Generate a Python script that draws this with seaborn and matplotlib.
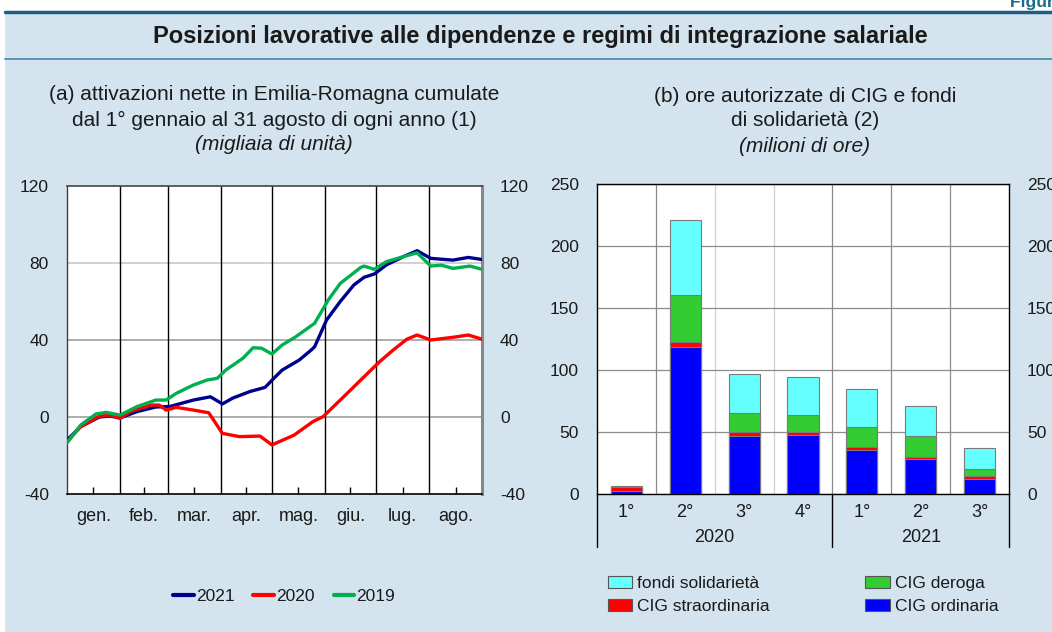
import pandas as pd
import matplotlib
matplotlib.use("Agg")
import matplotlib.pyplot as plt
import matplotlib.transforms as mtransforms
from matplotlib.lines import Line2D
from matplotlib.patches import Patch, Rectangle
import seaborn as sns

sns.set_style("white")
plt.rcParams['font.family'] = ['Liberation Sans', 'DejaVu Sans']
plt.rcParams['axes.unicode_minus'] = False

# ============================
# dati pannello (a): giorni dal 1° gennaio, migliaia di unità
# ============================
giorni_2021 = [0, 8, 19, 25, 31, 41, 52, 60, 74, 84, 91, 97, 107, 116, 121, 126, 136, 143, 145,
               152, 160, 168, 174, 180, 187, 197, 205, 213, 226, 235, 243]
valori_2021 = [-12, -5, 0, 0.5, -0.5, 2.8, 5.2, 5.4, 8.8, 10.5, 6.8, 9.8, 13.2, 15.4, 20, 24.4,
               29.6, 34.8, 36.5, 50.4, 60, 68.6, 72.6, 74.3, 79, 83.3, 86.4, 82.4, 81.5, 82.9, 81.8]

giorni_2020 = [0, 8, 19, 25, 31, 37, 49, 54, 58, 64, 74, 83, 91, 101, 113, 120, 133, 144, 150,
               162, 172, 178, 183, 191, 199, 205, 213, 226, 235, 243]
valori_2020 = [-12.8, -5, 0.5, 1, -0.7, 2.8, 6.2, 6.2, 3.6, 5, 3.6, 2.2, -8.5, -10.2, -9.9, -14.5,
               -9.4, -2.4, 0.2, 10.5, 19.2, 24.4, 28.7, 34.8, 40.4, 42.6, 40, 41.4, 42.6, 40.4]

giorni_2019 = [0, 8, 17, 23, 31, 41, 52, 58, 64, 74, 82, 88, 93, 103, 109, 114, 120, 126, 134,
               145, 153, 160, 172, 174, 180, 187, 197, 205, 213, 219, 226, 236, 243]
valori_2019 = [-13.5, -4.2, 1.6, 2.4, 1.0, 5.4, 8.8, 8.8, 12.3, 16.6, 19.2, 20.1, 24.4, 30.5, 36,
               35.7, 32.7, 37.4, 41.7, 48.7, 60.8, 69.4, 77.7, 78.4, 76.7, 80.7, 83.3, 85.3, 78.4,
               78.9, 77.2, 78.4, 76.7]

mesi = ['gen.', 'feb.', 'mar.', 'apr.', 'mag.', 'giu.', 'lug.', 'ago.']
inizio_mesi = [0, 31, 59, 90, 120, 151, 181, 212, 243]

# ============================
# dati pannello (b): milioni di ore
# ============================
trimestri = ['1°', '2°', '3°', '4°', '1°', '2°', '3°']
anni_trim = ['2020', '2020', '2020', '2020', '2021', '2021', '2021']
cig_ordinaria = [2.8, 118.7, 47.1, 47.9, 35.8, 28.3, 12.1]
cig_straordinaria = [2.6, 4.0, 3.0, 2.1, 2.1, 1.6, 2.7]
cig_deroga = [0.2, 38.0, 15.3, 13.8, 16.2, 16.9, 5.4]
fondi_solidarieta = [0.6, 60.3, 31.5, 30.4, 30.7, 24.0, 16.9]

col_linee = {'2021': '#00008F', '2020': '#FF0000', '2019': '#00B050'}
col_barre = {'fondi solidarietà': '#66FFFF', 'CIG deroga': '#33CC33',
             'CIG straordinaria': '#FF0000', 'CIG ordinaria': '#0000FF'}
sfondo = '#D3E4EE'
testo = '#1a1a1a'

W, H = 1052, 632
fig = plt.figure(figsize=(W / 100, H / 100), dpi=100)
fig.patch.set_facecolor('white')
fig.add_artist(Rectangle((5 / W, 0), 1, 1 - 13 / H, transform=fig.transFigure,
                         facecolor=sfondo, edgecolor='none', zorder=-10))
fig.add_artist(Line2D([5 / W, 1], [1 - 12 / H] * 2, color='#1F5C87', lw=2.5))
fig.add_artist(Line2D([5 / W, 1], [1 - 59 / H] * 2, color='#4A86B0', lw=1.2))
fig.text(1010 / W, 1 - 2 / H, 'Figura 3', fontsize=12.5, fontweight='bold', color='#1A6A8A',
         ha='left', va='center')
fig.text(540 / W, 1 - 37 / H,
         'Posizioni lavorative alle dipendenze e regimi di integrazione salariale',
         fontsize=17, fontweight='bold', ha='center', va='center', color=testo)

fig.text(274 / W, 1 - 95 / H, '(a) attivazioni nette in Emilia-Romagna cumulate',
         fontsize=15, ha='center', va='center', color=testo)
fig.text(274 / W, 1 - 120 / H, 'dal 1° gennaio al 31 agosto di ogni anno (1)',
         fontsize=15, ha='center', va='center', color=testo)
fig.text(274 / W, 1 - 145 / H, '(migliaia di unità)', fontsize=15, style='italic',
         ha='center', va='center', color=testo)
fig.text(805 / W, 1 - 97 / H, '(b) ore autorizzate di CIG e fondi',
         fontsize=15, ha='center', va='center', color=testo)
fig.text(805 / W, 1 - 121 / H, 'di solidarietà (2)',
         fontsize=15, ha='center', va='center', color=testo)
fig.text(805 / W, 1 - 146 / H, '(milioni di ore)', fontsize=15, style='italic',
         ha='center', va='center', color=testo)

# ============================
# (a) linee
# ============================
ax1 = fig.add_axes([67 / W, 1 - 494 / H, 415 / W, 308 / H])
ax1.set_facecolor('white')
df_linee = pd.concat([
    pd.DataFrame({'giorno': giorni_2021, 'valore': valori_2021, 'anno': '2021'}),
    pd.DataFrame({'giorno': giorni_2020, 'valore': valori_2020, 'anno': '2020'}),
    pd.DataFrame({'giorno': giorni_2019, 'valore': valori_2019, 'anno': '2019'}),
])
for y, c in [(0, '#A0A0A0'), (40, '#A0A0A0'), (80, '#C8C8C8')]:
    ax1.axhline(y, color=c, lw=1.2, zorder=1)
for b in inizio_mesi[1:-1]:
    ax1.axvline(b, color='black', lw=1, zorder=1)
sns.lineplot(data=df_linee, x='giorno', y='valore', hue='anno',
             hue_order=['2021', '2020', '2019'], palette=col_linee,
             lw=2.4, legend=False, ax=ax1, zorder=3)
ax1.set_xlim(0, 243)
ax1.set_ylim(-40, 120)
ax1.set_yticks([-40, 0, 40, 80, 120])
meta_mesi = [(a + b) / 2 for a, b in zip(inizio_mesi[:-1], inizio_mesi[1:])]
ax1.set_xticks(meta_mesi)
ax1.set_xticklabels(mesi)
ax1.set_xlabel('')
ax1.set_ylabel('')
ax1.tick_params(axis='x', direction='in', length=5, width=1, color='black',
                labelsize=13, pad=10, bottom=True, labelcolor=testo)
ax1.tick_params(axis='y', length=0, labelsize=12.5, pad=13, labelleft=True, labelright=True,
                labelcolor=testo)
for s, c, w in [('left', '#404040', 1), ('top', '#505050', 1.3),
                ('right', '#888888', 2.2), ('bottom', 'black', 1.2)]:
    ax1.spines[s].set_visible(True)
    ax1.spines[s].set_color(c)
    ax1.spines[s].set_linewidth(w)

handles = [Line2D([], [], color=col_linee[k], lw=3) for k in ['2021', '2020', '2019']]
fig.legend(handles, ['2021', '2020', '2019'], loc='center', bbox_to_anchor=(284 / W, 1 - 596 / H),
           ncol=3, frameon=False, fontsize=12.5, handlelength=1.2, handletextpad=0.1,
           columnspacing=1.1, labelcolor=testo)

# ============================
# (b) barre impilate
# ============================
ax2 = fig.add_axes([597 / W, 1 - 494 / H, 412 / W, 310 / H])
ax2.set_facecolor('white')
periodi = [f'{t} {a}' for t, a in zip(trimestri, anni_trim)]
livelli = [
    ('fondi solidarietà', [a + b + c + d for a, b, c, d in
                           zip(cig_ordinaria, cig_straordinaria, cig_deroga, fondi_solidarieta)]),
    ('CIG deroga', [a + b + c for a, b, c in zip(cig_ordinaria, cig_straordinaria, cig_deroga)]),
    ('CIG straordinaria', [a + b for a, b in zip(cig_ordinaria, cig_straordinaria)]),
    ('CIG ordinaria', cig_ordinaria),
]
ax2.yaxis.grid(True, color='#8C8C8C', lw=0.9, zorder=0)
ax2.set_axisbelow(True)
for i in range(6):
    ax2.axvline(i + 0.5, color='#D0D0D0' if i in (1, 2) else '#8C8C8C', lw=0.9, zorder=0)
for nome, valori in livelli:
    sns.barplot(x=periodi, y=valori, color=col_barre[nome], saturation=1, width=0.53,
                edgecolor='#7A7A7A', linewidth=0.8, ax=ax2, zorder=2)
ax2.set_xlim(-0.5, 6.5)
ax2.set_ylim(0, 250)
ax2.set_yticks(range(0, 251, 50))
ax2.set_xticks(range(len(trimestri)))
ax2.set_xticklabels(trimestri)
ax2.tick_params(axis='x', length=0, labelsize=13, pad=7, labelcolor=testo)
ax2.tick_params(axis='y', length=0, labelsize=12.5, pad=13, labelleft=True, labelright=True,
                labelcolor=testo)
for s in ['left', 'top', 'right', 'bottom']:
    ax2.spines[s].set_visible(True)
    ax2.spines[s].set_color('black')
    ax2.spines[s].set_linewidth(1)

trans = mtransforms.blended_transform_factory(ax2.transData, ax2.transAxes)
for xs in [-0.5, 3.5, 6.5]:
    ax2.add_line(Line2D([xs, xs], [0, -53 / 310], color='black', lw=1,
                        transform=trans, clip_on=False))
ax2.text(1.5, -43 / 310, '2020', transform=trans, ha='center', va='center', fontsize=13,
         color=testo)
ax2.text(5, -43 / 310, '2021', transform=trans, ha='center', va='center', fontsize=13,
         color=testo)

patch_h = [Patch(facecolor=col_barre[k], edgecolor='#555555', lw=0.8)
           for k in ['fondi solidarietà', 'CIG straordinaria', 'CIG deroga', 'CIG ordinaria']]
fig.legend(patch_h, ['fondi solidarietà', 'CIG straordinaria', 'CIG deroga', 'CIG ordinaria'],
           loc='center', bbox_to_anchor=(803 / W, 1 - 595 / H), ncol=2, frameon=False,
           fontsize=12.5, handlelength=1.4, handleheight=0.65, handletextpad=0.3,
           columnspacing=5.5, labelspacing=0.45, labelcolor=testo)

plt.savefig("out.png", dpi=100, facecolor=fig.get_facecolor())
